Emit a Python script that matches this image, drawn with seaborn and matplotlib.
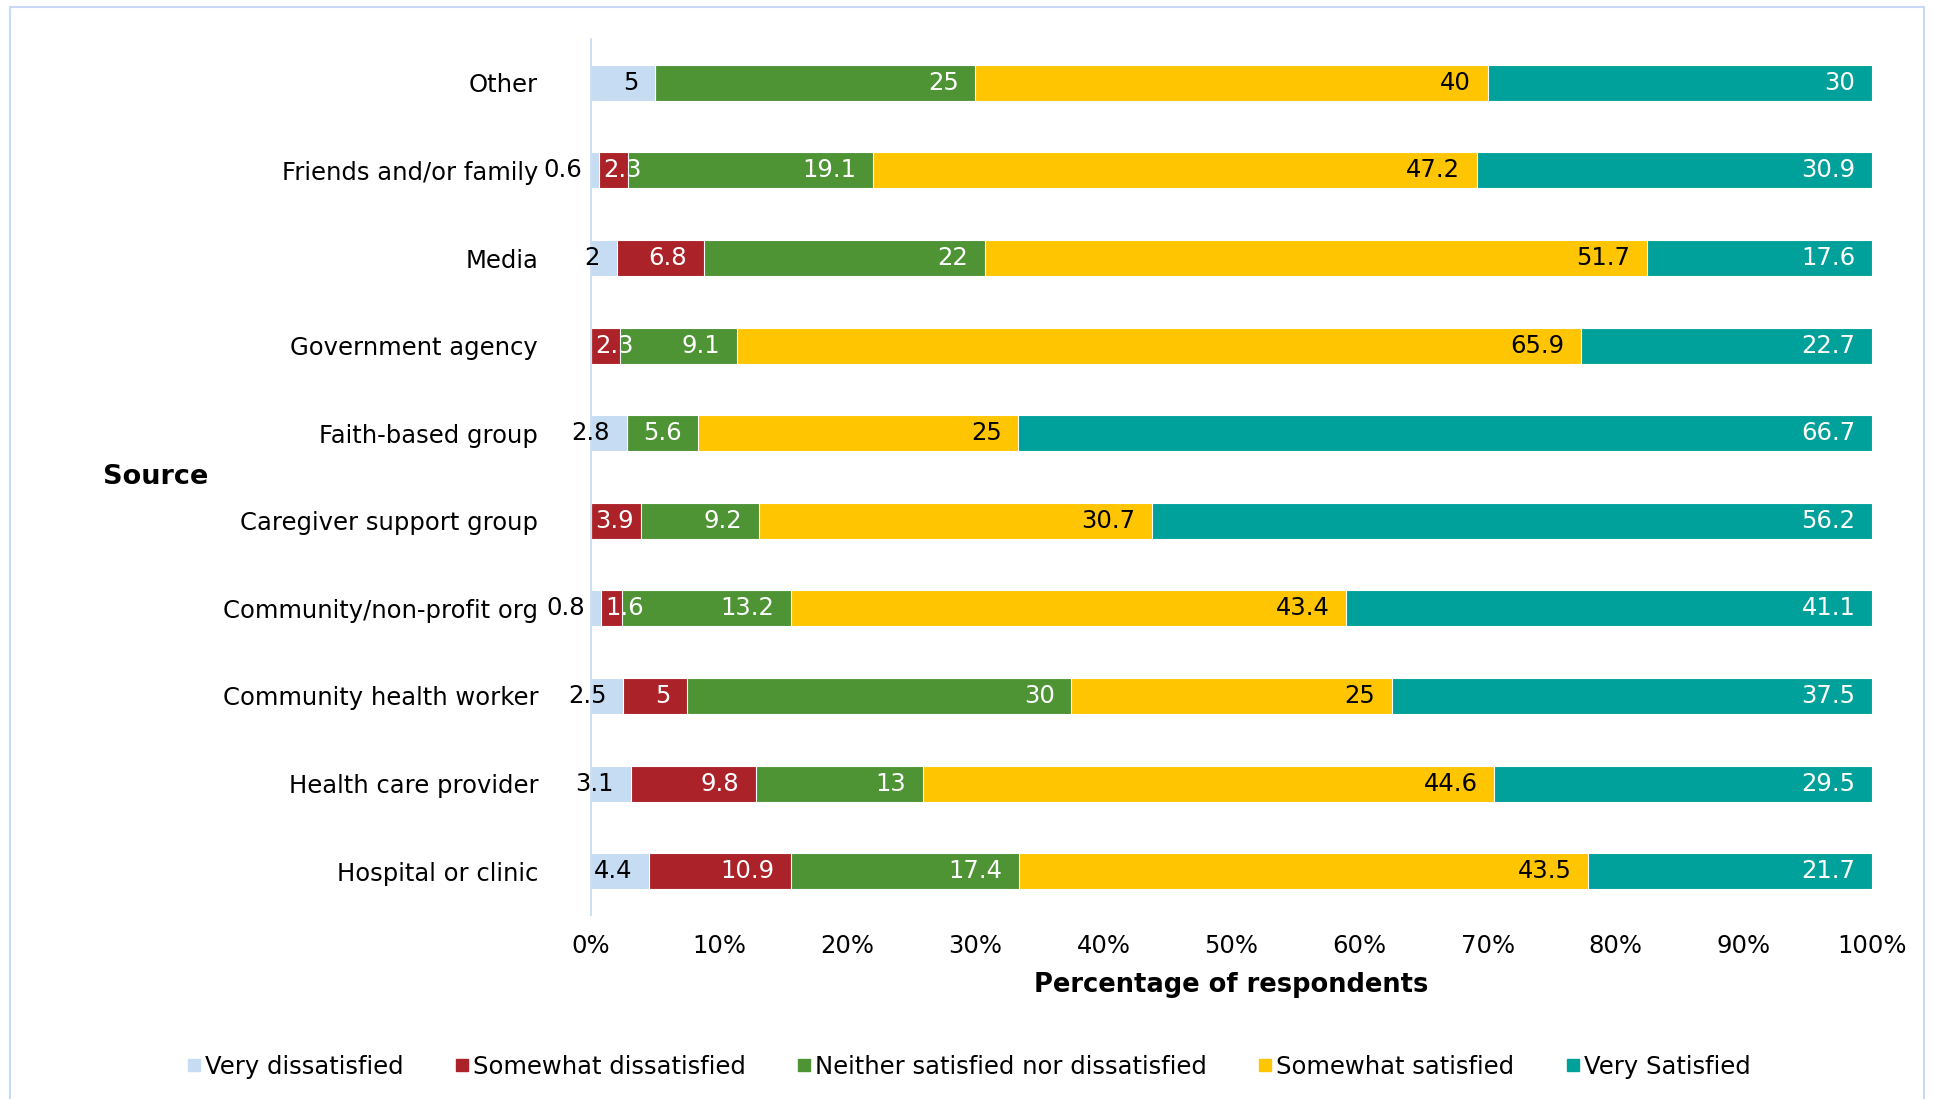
import matplotlib
matplotlib.use("Agg")
import matplotlib.pyplot as plt
from matplotlib.lines import Line2D
from matplotlib.patches import Rectangle
import numpy as np
import pandas as pd
import seaborn as sns

# ---- data -------------------------------------------------------------
categories = [
    "Other",
    "Friends and/or family",
    "Media",
    "Government agency",
    "Faith-based group",
    "Caregiver support group",
    "Community/non-profit org",
    "Community health worker",
    "Health care provider",
    "Hospital or clinic",
]
levels = [
    "Very dissatisfied",
    "Somewhat dissatisfied",
    "Neither satisfied nor dissatisfied",
    "Somewhat satisfied",
    "Very Satisfied",
]
very_dissatisfied = [5, 0.6, 2, 0, 2.8, 0, 0.8, 2.5, 3.1, 4.4]
somewhat_dissatisfied = [0, 2.3, 6.8, 2.3, 0, 3.9, 1.6, 5, 9.8, 10.9]
neither = [25, 19.1, 22, 9.1, 5.6, 9.2, 13.2, 30, 13, 17.4]
somewhat_satisfied = [40, 47.2, 51.7, 65.9, 25, 30.7, 43.4, 25, 44.6, 43.5]
very_satisfied = [30, 30.9, 17.6, 22.7, 66.7, 56.2, 41.1, 37.5, 29.5, 21.7]
x_ticks = [0, 10, 20, 30, 40, 50, 60, 70, 80, 90, 100]

colors = ["#C5DCF2", "#AC2229", "#4E9435", "#FFC500", "#00A19A"]
text_colors = ["black", "white", "white", "black", "white"]

# ---- 100% stacked shares ---------------------------------------------
series = [very_dissatisfied, somewhat_dissatisfied, neither,
          somewhat_satisfied, very_satisfied]
raw = np.array(series, dtype=float)            # shape (5, n)
shares = raw / raw.sum(axis=0) * 100.0
cum = np.cumsum(shares, axis=0)
starts = cum - shares

df = pd.DataFrame({"Source": categories})
for i, lvl in enumerate(levels):
    df[lvl] = cum[i]

# ---- figure -----------------------------------------------------------
sns.set_theme(style="white")
plt.rcParams["font.family"] = ["DejaVu Sans"]
plt.rcParams["text.color"] = "black"
plt.rcParams["axes.labelcolor"] = "black"
plt.rcParams["xtick.color"] = "black"
plt.rcParams["ytick.color"] = "black"
FS = 17.5

fig = plt.figure(figsize=(19.35, 10.99), dpi=100)
ax = fig.add_axes([591 / 1935, 1 - 915 / 1099, 1281 / 1935, 876 / 1099])

# draw cumulative bars from the outermost layer inwards
for i in range(len(levels) - 1, -1, -1):
    sns.barplot(data=df, x=levels[i], y="Source", order=categories,
                color=colors[i], orient="y", width=0.41, ax=ax,
                edgecolor="white", linewidth=0.8, saturation=1)

ax.set_xlim(0, 100)
ax.set_ylim(len(categories) - 0.5, -0.5)
ax.set_xticks(x_ticks)
ax.set_xticklabels([f"{t}%" for t in x_ticks], fontsize=FS)
ax.tick_params(axis="x", length=0, pad=14)
ax.tick_params(axis="y", length=0, pad=38, labelsize=FS)

for side in ["top", "right", "bottom"]:
    ax.spines[side].set_visible(False)
ax.spines["left"].set_color("#C5D9F1")
ax.spines["left"].set_linewidth(1.2)

ax.set_xlabel("Percentage of respondents", fontsize=18.5,
              fontweight="bold", labelpad=10)
ax.set_ylabel("Source", fontsize=19.5, fontweight="bold",
              rotation=0, ha="left", va="center")
ax.yaxis.set_label_coords((103 - 591) / 1281, 0.5)

# ---- value labels -----------------------------------------------------
fig.canvas.draw()
renderer = fig.canvas.get_renderer()
to_px = ax.transData
for i in range(len(levels)):
    for j in range(len(categories)):
        v = raw[i, j]
        if v == 0:
            continue
        label = f"{v:g}"
        t = ax.annotate(label, xy=(cum[i, j], j), xytext=(-12, 0),
                        textcoords="offset points", ha="right", va="center",
                        fontsize=FS, color=text_colors[i])
        if i > 0:
            bb = t.get_window_extent(renderer)
            start_px = to_px.transform((starts[i, j], j))[0]
            if bb.x0 < start_px + 4:
                t.remove()
                ax.annotate(label, xy=(starts[i, j], j), xytext=(3, 0),
                            textcoords="offset points", ha="left",
                            va="center", fontsize=FS, color=text_colors[i])

# ---- legend -----------------------------------------------------------
handles = [Line2D([], [], marker="s", linestyle="", markersize=9,
                  markerfacecolor=c, markeredgecolor=c) for c in colors]
fig.legend(handles, levels, loc="center", bbox_to_anchor=(0.5, 1 - 1067 / 1099),
           ncol=5, frameon=False, fontsize=FS, handletextpad=0.05,
           columnspacing=2.0, handlelength=0.8)

# chart-area frame
fig.patches.append(Rectangle((10 / 1935, -0.05), 1914 / 1935, 1 - 7 / 1099 + 0.05,
                             transform=fig.transFigure, fill=False,
                             edgecolor="#C9D8F4", linewidth=1.5))

fig.savefig("out.png", dpi=100)
